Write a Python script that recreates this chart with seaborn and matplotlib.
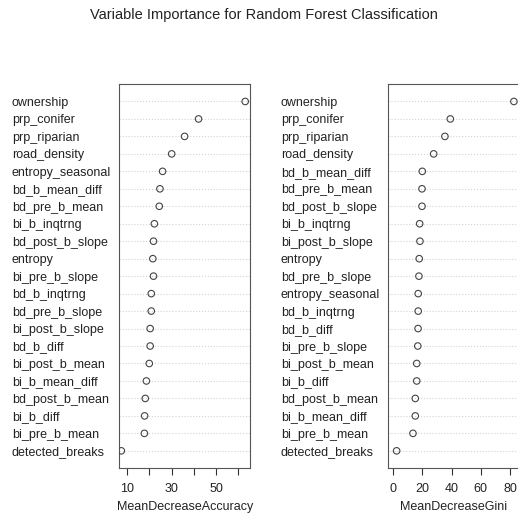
import matplotlib
matplotlib.use("Agg")
import matplotlib.pyplot as plt
import seaborn as sns
import pandas as pd

# MeanDecreaseAccuracy, sorted high -> low
acc_vars = ["ownership", "prp_conifer", "prp_riparian", "road_density",
            "entropy_seasonal", "bd_b_mean_diff", "bd_pre_b_mean", "bi_b_inqtrng",
            "bd_post_b_slope", "entropy", "bi_pre_b_slope", "bd_b_inqtrng",
            "bd_pre_b_slope", "bi_post_b_slope", "bd_b_diff", "bi_post_b_mean",
            "bi_b_mean_diff", "bd_post_b_mean", "bi_b_diff", "bi_pre_b_mean",
            "detected_breaks"]
acc_vals = [63.1, 42.1, 35.8, 30.0, 25.9, 24.7, 24.4, 22.2, 21.8, 21.5, 21.8,
            20.8, 20.8, 20.3, 20.3, 19.9, 18.6, 18.1, 17.8, 17.7, 7.3]

# MeanDecreaseGini, sorted high -> low
gini_vars = ["ownership", "prp_conifer", "prp_riparian", "road_density",
             "bd_b_mean_diff", "bd_pre_b_mean", "bd_post_b_slope", "bi_b_inqtrng",
             "bi_post_b_slope", "entropy", "bd_pre_b_slope", "entropy_seasonal",
             "bd_b_inqtrng", "bd_b_diff", "bi_pre_b_slope", "bi_post_b_mean",
             "bi_b_diff", "bd_post_b_mean", "bi_b_mean_diff", "bi_pre_b_mean",
             "detected_breaks"]
gini_vals = [82.7, 39.1, 35.4, 27.7, 19.9, 19.7, 19.7, 18.1, 18.3, 17.8, 17.6,
             17.1, 17.1, 17.0, 16.8, 16.1, 16.1, 15.1, 15.1, 13.5, 2.3]

sns.set_style("white")
plt.rcParams["font.family"] = ["Liberation Sans", "DejaVu Sans"]
plt.rcParams["font.size"] = 9

fig = plt.figure(figsize=(5.18, 5.15), dpi=100)

W, H = 518, 515


def panel(box, names, vals, xlim, ticks, ticklabels, xlabel):
    n = len(names)
    df = pd.DataFrame({"var": names, "val": vals})
    df["pos"] = n - df.index
    ax = fig.add_axes(box)
    for p in df["pos"]:
        ax.axhline(p, color="lightgray", ls=":", lw=0.8, zorder=0)
    sns.scatterplot(data=df, x="val", y="pos", ax=ax, s=22,
                    facecolor="none", edgecolor="#444444", linewidth=0.8,
                    zorder=3)
    ax.set_xlim(*xlim)
    ax.set_ylim(0, n + 1)
    ax.set_yticks(df["pos"], df["var"])
    ax.tick_params(axis="y", length=0, pad=77.5, labelsize=9, colors="#222222")
    for t in ax.get_yticklabels():
        t.set_ha("left")
    ax.set_xticks(ticks, ticklabels)
    ax.tick_params(axis="x", length=5, width=0.8, pad=5.5, labelsize=9,
                   colors="#333333", labelcolor="#222222", direction="out",
                   bottom=True)
    ax.set_xlabel(xlabel, fontsize=9, color="#222222", labelpad=4.5)
    ax.set_ylabel("")
    for s in ax.spines.values():
        s.set_color("#555555")
        s.set_linewidth(0.8)
    return ax


bot = 1 - 468.3 / H
hgt = 384.3 / H
wid = 131 / W

panel([119.3 / W, bot, wid, hgt], acc_vars, acc_vals, (6.4, 65.4),
      [10, 20, 30, 40, 50, 60], ["10", "", "30", "", "50", ""],
      "MeanDecreaseAccuracy")
panel([388.3 / W, bot, wid, hgt], gini_vars, gini_vals, (-3.4, 86.4),
      [0, 20, 40, 60, 80], ["0", "20", "40", "60", "80"],
      "MeanDecreaseGini")

fig.text(264 / W, 1 - 15 / H, "Variable Importance for Random Forest Classification",
         ha="center", va="center", fontsize=10.5, color="#222222")

fig.savefig("out.png", dpi=100)
